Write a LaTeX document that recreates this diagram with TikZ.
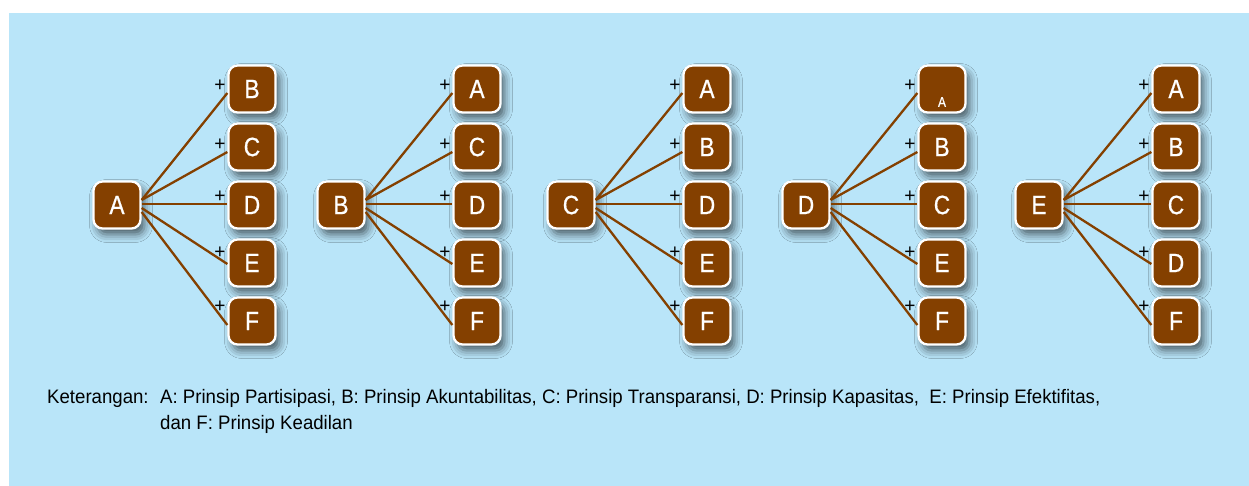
\documentclass[tikz,border=0pt]{standalone}
\usepackage{fontspec}
\setmainfont{Liberation Sans}[FakeStretch=0.955]
\newfontfamily\boxfont{Liberation Sans}[FakeStretch=0.86, FakeBold=0.7]
\usetikzlibrary{shadows.blur,calc}

\definecolor{skyback}{HTML}{B9E5F9}
\definecolor{boxbrown}{HTML}{844000}

\tikzset{
  x=1pt, y=-1pt,
  letterbox/.style={draw=white, line width=2.3pt, fill=boxbrown, rounded corners=9pt,
    minimum width=47pt, minimum height=47pt, inner sep=0pt, text=white,
    font=\boxfont\fontsize{26.5}{26.5}\selectfont,
    blur shadow={shadow xshift=4pt, shadow yshift=-6pt, shadow blur radius=8pt, shadow opacity=60}},
  smallletter/.style={text=white, inner sep=0pt, font=\boxfont\fontsize{14}{14}\selectfont},
  link/.style={draw=boxbrown, line width=2.3pt},
  plusmark/.style={inner sep=0pt, font=\fontsize{20}{20}\selectfont},
  legend/.style={inner sep=0pt, anchor=base west, font=\fontsize{19.5}{19.5}\selectfont},
}

\begin{document}
\begin{tikzpicture}
  \useasboundingbox (0,0) rectangle (1249,486);
  \fill[white] (0,0) rectangle (1249,486);
  \fill[skyback] (9,13) rectangle (1249,486);

  % one fan per principle: source letter, source x, target x, five target letters
  \foreach \g/\src/\sx/\tx/\ta/\tb/\tc/\td/\te in {
      1/A/117/252/B/C/D/E/F,
      2/B/341/477/A/C/D/E/F,
      3/C/571/707/A/B/D/E/F,
      4/D/806/942/{}/B/C/E/F,
      5/E/1039/1176/A/B/C/D/F} {
    \node[letterbox] (s\g) at (\sx,205) {\src};
    \node[letterbox] (t\g1) at (\tx,89)  {\ta};
    \node[letterbox] (t\g2) at (\tx,147) {\tb};
    \node[letterbox] (t\g3) at (\tx,205) {\tc};
    \node[letterbox] (t\g4) at (\tx,263) {\td};
    \node[letterbox] (t\g5) at (\tx,321) {\te};
    % connectors fanning out from the source box
    \foreach \r/\so/\eo/\po in {1/-5/4/-3, 2/-5/5/-2, 3/-1/-1/-8, 4/3/1/-10, 5/7/4/-14} {
      \draw[link] ($(s\g.east)+(0,\so)$) -- ($(t\g\r.west)+(0,\eo)$);
      \node[plusmark] (p\g\r) at ($(t\g\r.center)+(-32,\po)$) {+};
    }
  }
  % the first box of the fourth fan carries a small letter at its foot
  \node[smallletter] (t41txt) at ($(t41.center)+(0,13)$) {A};

  % legend
  \node[legend] (keyhead) at (47,403) {Keterangan:};
  \node[legend] (keyline1) at (160,403) {A: Prinsip Partisipasi, B: Prinsip Akuntabilitas, C: Prinsip Transparansi, D: Prinsip Kapasitas,\ \ E: Prinsip Efektifitas,};
  \node[legend] (keyline2) at (160,429) {dan F: Prinsip Keadilan};
\end{tikzpicture}
\end{document}
